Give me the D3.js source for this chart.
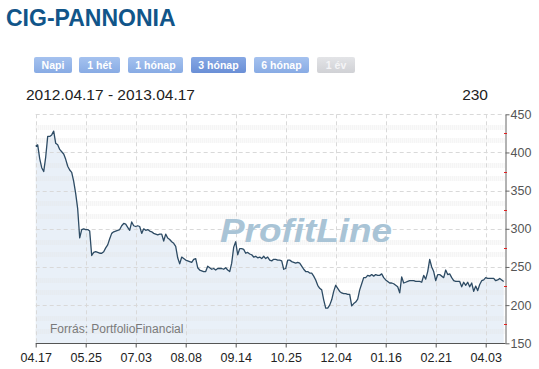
<!DOCTYPE html>
<html><head><meta charset="utf-8">
<script src="https://cdn.jsdelivr.net/npm/d3@7"></script>
<style>
body{margin:0;background:#fff;}
svg{display:block;font-family:"Liberation Sans",Arial,sans-serif;}
</style></head>
<body>
<svg id="c" width="539" height="369"></svg>
<script>
const title = "CIG-PANNONIA";
const buttons = ["Napi","1 hét","1 hónap","3 hónap","6 hónap","1 év"];
const buttonState = ["n","n","n","s","n","d"];
const dateRange = "2012.04.17 - 2013.04.17";
const lastValue = "230";
const source = "Forrás: PortfolioFinancial";
const watermark = "ProfitLine";
const tickLabels = ["04.17","05.25","07.03","08.08","09.14","10.25","12.04","01.16","02.21","04.03"];
const tickIndex = [0,25,50,75,100,125,150,175,200,225];
const yTicks = [150,200,250,300,350,400,450];
const yMinorTicks = [175,225,275,325,375,425];
const prices = [
408,410,392,380,375,394,421,421,423,428,412,410,404,401,398,391,382,377,374,362,
346,326,288,299,300,299,299,297,265,269,270,269,268,268,270,275,279,287,294,296,
297,298,299,304,307,306,302,298,309,304,303,304,303,294,300,298,299,297,296,294,
293,292,293,293,284,293,288,286,283,281,277,262,254,263,261,259,258,257,256,260,
261,249,246,245,244,244,251,249,247,248,246,248,248,248,247,249,246,244,255,276,
283,266,274,274,273,268,269,267,266,263,264,262,263,261,264,261,263,259,258,260,
260,259,259,258,247,248,259,259,257,256,255,256,255,251,247,244,244,242,242,238,
233,226,222,220,207,196,196,200,207,218,226,222,218,216,215,215,214,214,199,202,
204,208,220,228,236,236,239,238,240,238,240,239,239,241,236,233,231,229,229,228,
226,224,216,237,229,230,231,232,232,232,231,231,231,230,239,234,244,260,250,244,
232,240,240,238,236,246,240,241,236,232,231,231,231,224,230,226,230,224,229,218,
225,219,227,232,233,236,235,235,235,235,232,233,235,233,231
];

const svg = d3.select("#c");
const font = '"Liberation Sans",Arial,sans-serif';

// header
svg.append("text").attr("x",6).attr("y",26).text(title)
  .attr("font-size",23).attr("font-weight","bold").attr("fill","#115589");

const btnX = [34,79,128,191,254,317];
const btnW = [38,41,55,55,55,38];
const defs = svg.append("defs");
const grads = {n:["#a5c2ef","#88abe4"], s:["#86a8e4","#6a8fd6"], d:["#e3e4e7","#d0d1d5"]};
Object.entries(grads).forEach(([k,c])=>{
  const g = defs.append("linearGradient").attr("id","g"+k).attr("x1",0).attr("x2",0).attr("y1",0).attr("y2",1);
  g.append("stop").attr("offset",0).attr("stop-color",c[0]);
  g.append("stop").attr("offset",1).attr("stop-color",c[1]);
});
const bg = svg.append("g");
buttons.forEach((b,i)=>{
  bg.append("rect").attr("x",btnX[i]).attr("y",57).attr("width",btnW[i]).attr("height",16)
    .attr("rx",2).attr("fill","url(#g"+buttonState[i]+")");
  bg.append("text").attr("x",btnX[i]+btnW[i]/2).attr("y",69).attr("text-anchor","middle")
    .attr("font-size",10.5).attr("font-weight","bold")
    .attr("fill",buttonState[i]==="d"?"#f4f4f6":"#fff").text(b);
});

svg.append("text").attr("x",26).attr("y",100).attr("font-size",15.5).attr("fill","#222").text(dateRange);
svg.append("text").attr("x",488).attr("y",100).attr("text-anchor","end").attr("font-size",15.5).attr("fill","#222").text(lastValue);

// scales
const x = d3.scaleLinear().domain([0, prices.length-1]).range([35.7, 503.7]);
const y = d3.scaleLinear().domain([150,450]).range([343.3,114.3]);
const x0 = 35.7, x1 = 505.5;

// area fill
const area = d3.area().x((d,i)=>x(i)).y0(y(150)).y1(d=>y(d));
svg.append("path").datum(prices).attr("d",area).attr("fill","#e9f0f8");

// minor dotted grid bands (two per major interval)
const minor = [];
yTicks.slice(0,-1).forEach(v=>{ minor.push(v+50/3, v+100/3); });
svg.append("g").selectAll("line").data(minor).join("line")
  .attr("x1",x0).attr("x2",x1-1).attr("y1",d=>Math.round(y(d))+0.5).attr("y2",d=>Math.round(y(d))+0.5)
  .attr("stroke","#e4e4e4").attr("stroke-opacity",0.55).attr("stroke-width",5).attr("stroke-dasharray","1,1");
// major dashed grid
svg.append("g").selectAll("line").data(yTicks.filter(v=>v>150)).join("line")
  .attr("x1",x0).attr("x2",x1-1).attr("y1",d=>Math.round(y(d))+0.5).attr("y2",d=>Math.round(y(d))+0.5)
  .attr("stroke","#d9d9d9").attr("stroke-dasharray","4,3");
svg.append("g").selectAll("line").data(tickIndex).join("line")
  .attr("x1",d=>Math.round(x(d))+0.5).attr("x2",d=>Math.round(x(d))+0.5)
  .attr("y1",y(450)).attr("y2",y(150))
  .attr("stroke","#d9d9d9").attr("stroke-dasharray","4,3");

// watermark
svg.append("text").attr("x",220).attr("y",242).text(watermark)
  .attr("font-size",33).attr("font-weight","bold").attr("font-style","italic")
  .attr("textLength",172).attr("lengthAdjust","spacingAndGlyphs")
  .attr("fill","#a9c4d6");

// line
const line = d3.line().x((d,i)=>x(i)).y(d=>y(d));
svg.append("path").datum(prices).attr("d",line).attr("fill","none")
  .attr("stroke","#2d4b64").attr("stroke-width",1.3).attr("stroke-linejoin","round");

// source
svg.append("text").attr("x",50).attr("y",333).attr("font-size",12).attr("fill","#7a7a7a").text(source);

// x axis
const xa = svg.append("g").attr("transform",`translate(0,${Math.round(y(150))+0.5})`)
  .call(d3.axisBottom(x).tickValues(tickIndex).tickFormat((d,i)=>tickLabels[i]).tickSize(4).tickSizeOuter(0));
xa.select(".domain").attr("d",`M${x0},0H${x1}`).attr("stroke","#555");
xa.selectAll(".tick line").attr("stroke","#555");
xa.selectAll(".tick text").attr("font-family",font).attr("font-size",12.5).attr("fill","#222").attr("dy","0.95em");

// right axis
const ya = svg.append("g").attr("transform",`translate(${Math.round(x1)-0.5},0)`)
  .call(d3.axisRight(y).tickValues(yTicks).tickSize(4).tickSizeOuter(0));
ya.select(".domain").attr("stroke","#666");
ya.selectAll(".tick line").attr("stroke","#666");
ya.selectAll(".tick text").attr("font-family",font).attr("font-size",12.5).attr("fill","#555").attr("x",5);
svg.append("g").selectAll("line").data(yMinorTicks).join("line")
  .attr("x1",Math.round(x1)-2).attr("x2",Math.round(x1)+1)
  .attr("y1",d=>Math.round(y(d))+0.5).attr("y2",d=>Math.round(y(d))+0.5)
  .attr("stroke","#e02020");
</script>
</body></html>
